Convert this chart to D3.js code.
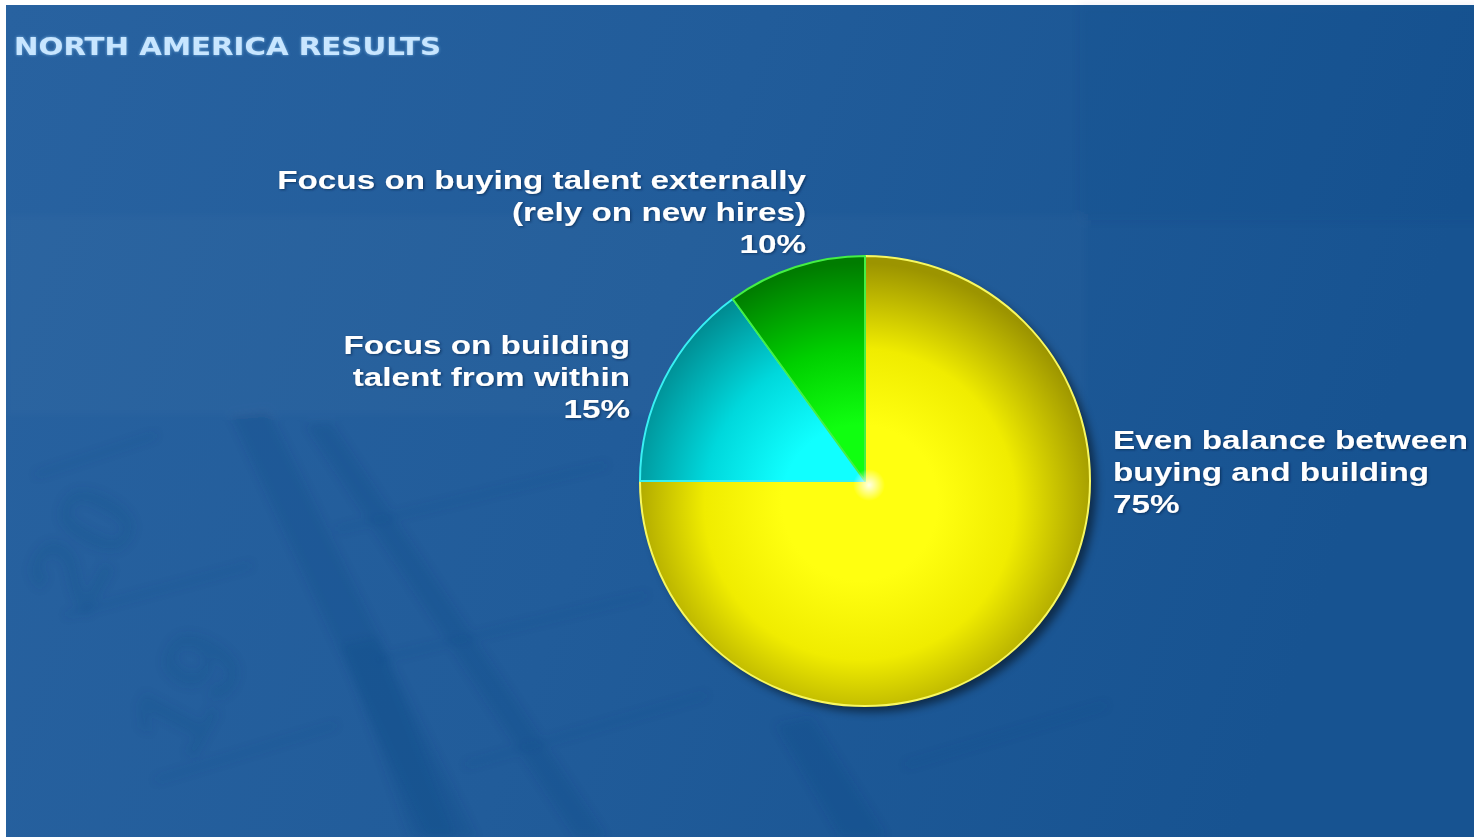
<!DOCTYPE html>
<html>
<head>
<meta charset="utf-8">
<script src="https://cdn.jsdelivr.net/npm/d3@7"></script>
<style>
  html, body { margin: 0; padding: 0; background: #ffffff; }
  svg { display: block; }
</style>
</head>
<body>
<svg id="chart" width="1474" height="837"></svg>
<script>
// Survey split: how North American organisations source talent
const categories = [
  "Even balance between buying and building",
  "Focus on building talent from within",
  "Focus on buying talent externally (rely on new hires)"
];
const shares = [75, 15, 10];
const labelLines = [
  ["Even balance between", "buying and building"],
  ["Focus on building", "talent from within"],
  ["Focus on buying talent externally", "(rely on new hires)"]
];
const titleText = "NORTH AMERICA RESULTS";

const W = 1474, H = 837;
const svg = d3.select("#chart");
const defs = svg.append("defs");

// ---- backdrop -------------------------------------------------------------
const bgGrad = defs.append("linearGradient").attr("id", "bg")
  .attr("x1", 0).attr("y1", 0).attr("x2", 1).attr("y2", 0.2);
bgGrad.append("stop").attr("offset", 0).attr("stop-color", "#2862a0");
bgGrad.append("stop").attr("offset", 0.5).attr("stop-color", "#215c9a");
bgGrad.append("stop").attr("offset", 1).attr("stop-color", "#175391");

const page = svg.append("g").attr("transform", "translate(6,5)");
page.append("rect").attr("width", W - 6).attr("height", H - 5).attr("fill", "url(#bg)");

// faint calendar artwork behind the chart
const soft = defs.append("filter").attr("id", "soft")
  .attr("x", -0.1).attr("y", -0.1).attr("width", 1.2).attr("height", 1.2);
soft.append("feGaussianBlur").attr("stdDeviation", 4);

const art = page.append("g").attr("filter", "url(#soft)");
art.append("rect").attr("x", 0).attr("y", 210).attr("width", 1080).attr("height", 200)
  .attr("fill", "#ffffff").attr("opacity", 0.018);
art.append("rect").attr("x", 1074).attr("y", 0).attr("width", 400).attr("height", 215)
  .attr("fill", "#0c3f7d").attr("opacity", 0.08);
const bands = [
  [[225, 410], [262, 405], [470, 832], [420, 832]],
  [[300, 420], [325, 418], [600, 832], [570, 832]],
  [[335, 640], [372, 632], [450, 832], [405, 832]],
  [[770, 720], [805, 712], [880, 832], [835, 832]]
];
bands.forEach(b => art.append("path")
  .attr("d", d3.line()(b) + "Z")
  .attr("fill", "#0b3f7c").attr("opacity", 0.16));
const strokes = [
  [[30, 470], [150, 430]], [[60, 610], [245, 560]], [[150, 775], [330, 720]],
  [[330, 525], [600, 460]], [[370, 655], [640, 590]], [[460, 760], [700, 690]],
  [[900, 760], [1100, 700]]
];
strokes.forEach(s => art.append("path")
  .attr("d", d3.line()(s))
  .attr("stroke", "#0e4684").attr("stroke-width", 3).attr("opacity", 0.25).attr("fill", "none"));
[["20", 110, 560, -62], ["19", 215, 705, -62]].forEach(([t, x, y, r]) =>
  art.append("text").text(t)
    .attr("transform", `translate(${x},${y}) rotate(${r})`)
    .attr("font-family", "Liberation Sans, Arial, sans-serif")
    .attr("font-weight", "bold").attr("font-size", 110)
    .attr("text-anchor", "middle")
    .attr("fill", "#0c417f").attr("opacity", 0.12));

// ---- title ----------------------------------------------------------------
const glow = defs.append("filter").attr("id", "glow")
  .attr("x", -0.1).attr("y", -0.5).attr("width", 1.2).attr("height", 2);
glow.append("feGaussianBlur").attr("in", "SourceAlpha").attr("stdDeviation", 1.4).attr("result", "b");
glow.append("feFlood").attr("flood-color", "#8cc2ee").attr("flood-opacity", 0.8);
glow.append("feComposite").attr("in2", "b").attr("operator", "in").attr("result", "g");
const gm = glow.append("feMerge");
gm.append("feMergeNode").attr("in", "g");
gm.append("feMergeNode").attr("in", "SourceGraphic");

svg.append("g").attr("transform", "translate(14,55) scale(1.22,1)")
  .append("text").text(titleText)
  .attr("font-family", "DejaVu Sans, Verdana, sans-serif")
  .attr("font-weight", "bold").attr("font-size", 24)
  .attr("fill", "#c8e6ff").attr("filter", "url(#glow)");

// ---- pie ------------------------------------------------------------------
const cx = 865, cy = 481, R = 225;
const palette = [
  { inner: "#ffff10", mid: "#f0ec00", outer: "#9c9400", edge: "#f8f860" },
  { inner: "#10ffff", mid: "#00d8dc", outer: "#00898f", edge: "#38f0f4" },
  { inner: "#10ff10", mid: "#00d000", outer: "#007c00", edge: "#44f044" }
];
const color = d3.scaleOrdinal().domain(categories).range(palette);

// gradients are defined in the pie group's coordinates (origin at the centre)
palette.forEach((p, i) => {
  const g = defs.append("radialGradient").attr("id", "slice" + i)
    .attr("gradientUnits", "userSpaceOnUse")
    .attr("cx", -5).attr("cy", 25).attr("r", R * 1.08)
    .attr("fx", -5).attr("fy", 20);
  g.append("stop").attr("offset", 0).attr("stop-color", p.inner);
  g.append("stop").attr("offset", 0.32).attr("stop-color", p.inner);
  g.append("stop").attr("offset", 0.64).attr("stop-color", p.mid);
  g.append("stop").attr("offset", 1).attr("stop-color", p.outer);
});

const shadow = defs.append("filter").attr("id", "shadow")
  .attr("x", -0.2).attr("y", -0.2).attr("width", 1.4).attr("height", 1.4);
shadow.append("feGaussianBlur").attr("in", "SourceAlpha").attr("stdDeviation", 4);
shadow.append("feOffset").attr("dx", 6).attr("dy", 6).attr("result", "o");
shadow.append("feComponentTransfer").append("feFuncA").attr("type", "linear").attr("slope", 0.5);
const sm = shadow.append("feMerge");
sm.append("feMergeNode");
sm.append("feMergeNode").attr("in", "SourceGraphic");

const pie = d3.pie().sort(null).value(d => d.value)
  .startAngle(0).endAngle(2 * Math.PI);
const rows = categories.map((c, i) => ({ category: c, value: shares[i], lines: labelLines[i] }));
const arcs = pie(rows);
const arc = d3.arc().innerRadius(0).outerRadius(R);

const pieG = svg.append("g").attr("transform", `translate(${cx},${cy})`);
pieG.append("circle").attr("r", R).attr("fill", "#000").attr("filter", "url(#shadow)");
pieG.selectAll("path.slice").data(arcs).join("path")
  .attr("class", "slice")
  .attr("d", arc)
  .attr("fill", d => `url(#slice${d.index})`)
  .attr("stroke", d => color(d.data.category).edge)
  .attr("stroke-width", 2)
  .attr("stroke-linejoin", "round");

// small glare at the pie centre
const glare = defs.append("radialGradient").attr("id", "glare");
glare.append("stop").attr("offset", 0).attr("stop-color", "#ffffff").attr("stop-opacity", 0.9);
glare.append("stop").attr("offset", 1).attr("stop-color", "#ffffff").attr("stop-opacity", 0);
pieG.append("circle").attr("cx", 4).attr("cy", 4).attr("r", 16).attr("fill", "url(#glare)");

// ---- labels ---------------------------------------------------------------
const labelPos = [
  { x: 1113, y: 449, anchor: "start" },
  { x: 630, y: 354, anchor: "end" },
  { x: 806, y: 189, anchor: "end" }
];
const lineGap = 32, stretch = 1.28;

const tShadow = defs.append("filter").attr("id", "tshadow")
  .attr("x", -0.1).attr("y", -0.3).attr("width", 1.2).attr("height", 1.6);
tShadow.append("feDropShadow").attr("dx", 1).attr("dy", 1).attr("stdDeviation", 1)
  .attr("flood-color", "#06203f").attr("flood-opacity", 0.6);

arcs.forEach(a => {
  const pos = labelPos[a.index];
  const g = svg.append("g")
    .attr("transform", `translate(${pos.x},${pos.y}) scale(${stretch},1)`);
  const text = g.append("text")
    .attr("font-family", "Liberation Sans, Arial, sans-serif")
    .attr("font-weight", "bold").attr("font-size", 26)
    .attr("fill", "#ffffff").attr("text-anchor", pos.anchor)
    .attr("filter", "url(#tshadow)");
  const lines = a.data.lines.concat([`${a.data.value}%`]);
  lines.forEach((ln, k) => text.append("tspan")
    .attr("x", 0).attr("y", k * lineGap).text(ln));
});
</script>
</body>
</html>
